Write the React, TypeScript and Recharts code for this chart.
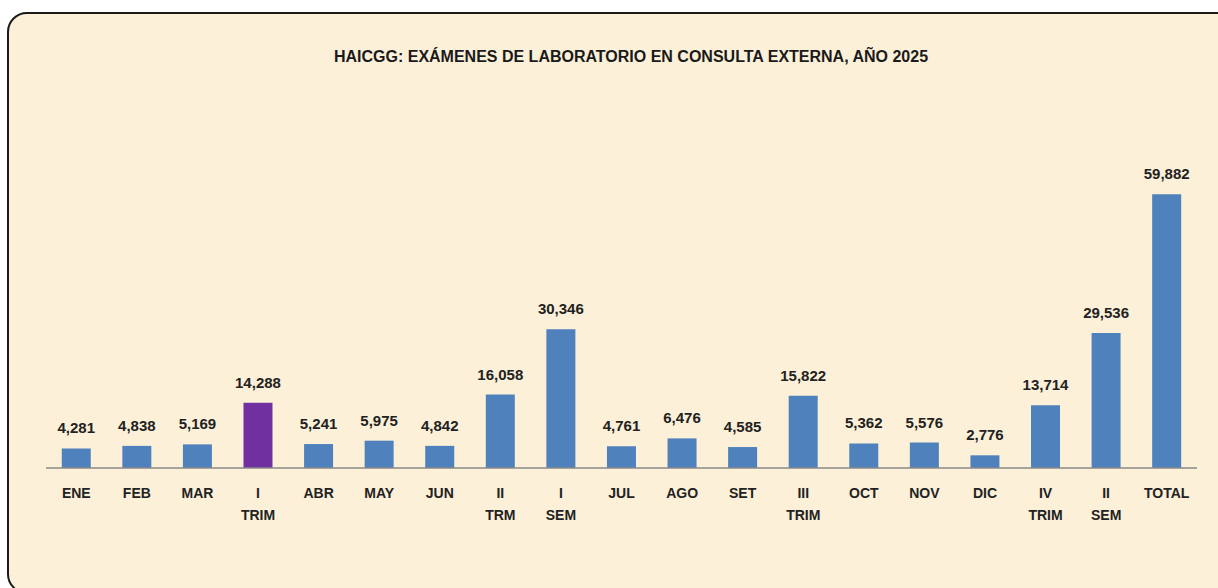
import { BarChart, Bar, XAxis, YAxis, LabelList, Cell } from "recharts";

const categories = [
  "ENE", "FEB", "MAR", "I\nTRIM", "ABR", "MAY", "JUN", "II\nTRM", "I\nSEM", "JUL",
  "AGO", "SET", "III\nTRIM", "OCT", "NOV", "DIC", "IV\nTRIM", "II\nSEM", "TOTAL",
];
const examenes = [
  4281, 4838, 5169, 14288, 5241, 5975, 4842, 16058, 30346, 4761,
  6476, 4585, 15822, 5362, 5576, 2776, 13714, 29536, 59882,
];
const highlighted = "I\nTRIM";

const data = categories.map((name, i) => ({ name, value: examenes[i] }));

const FONT = "'Liberation Sans', Arial, sans-serif";

function MultiLineTick(props: any) {
  const { x, y, payload } = props;
  const lines = String(payload.value).split("\n");
  return (
    <text x={x} y={y} textAnchor="middle" fill="#222" fontFamily={FONT} fontWeight="bold" fontSize={14}>
      {lines.map((line, i) => (
        <tspan key={i} x={x} dy={22}>
          {line}
        </tspan>
      ))}
    </text>
  );
}

export default function App() {
  return (
    <div style={{ position: "absolute", left: 0, top: 0, width: 1218, height: 588, overflow: "hidden", background: "#fff" }}>
      <div
        style={{
          position: "absolute",
          left: 7,
          top: 12,
          width: 1240,
          height: 582,
          border: "2px solid #1a1a1a",
          borderRadius: 20,
          background: "#fcf0d8",
          boxSizing: "border-box",
        }}
      />
      <div
        style={{
          position: "absolute",
          left: 631,
          top: 48,
          transform: "translateX(-50%)",
          whiteSpace: "nowrap",
          fontFamily: FONT,
          fontWeight: "bold",
          fontSize: 16,
          color: "#1a1a1a",
        }}
      >
        HAICGG: EXÁMENES DE LABORATORIO EN CONSULTA EXTERNA, AÑO 2025
      </div>
      <div style={{ position: "absolute", left: 0, top: 0 }}>
        <BarChart
          width={1218}
          height={588}
          data={data}
          margin={{ top: 148, right: 21, bottom: 60, left: 46 }}
          barCategoryGap="26%"
        >
          <XAxis
            dataKey="name"
            height={60}
            interval={0}
            tickLine={false}
            axisLine={{ stroke: "#8a8a8a", strokeWidth: 1.5 }}
            tick={<MultiLineTick />}
          />
          <YAxis hide domain={[0, 70000]} />
          <Bar dataKey="value" isAnimationActive={false}>
            {data.map((d) => (
              <Cell key={d.name} fill={d.name === highlighted ? "#7030a0" : "#4f81bd"} />
            ))}
            <LabelList
              dataKey="value"
              position="top"
              offset={15}
              formatter={(v: any) => Number(v).toLocaleString("en-US")}
              style={{ fontFamily: FONT, fontWeight: "bold", fontSize: 15, fill: "#222" }}
            />
          </Bar>
        </BarChart>
      </div>
    </div>
  );
}
